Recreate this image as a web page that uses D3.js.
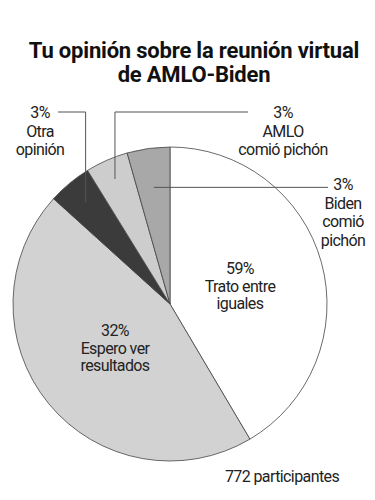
<!DOCTYPE html>
<html>
<head>
<meta charset="utf-8">
<script src="https://cdn.jsdelivr.net/npm/d3@7"></script>
<style>
  body { margin: 0; background: #fff; }
  svg { display: block; font-family: Roboto, "Noto Sans", sans-serif; }
  .title { font-weight: 700; font-size: 22px; fill: #111; letter-spacing: -0.2px; }
  .lbl { font-size: 16px; fill: #222; letter-spacing: -0.6px; }
</style>
</head>
<body>
<svg width="375" height="500"></svg>
<script>
// data
var categories = ["Trato entre iguales", "Espero ver resultados", "Otra opinión", "AMLO comió pichón", "Biden comió pichón"];
var percentLabels = ["59%", "32%", "3%", "3%", "3%"];
// share of the circle each slice covers in the drawing (slices are not to scale with the labels)
var sliceShares = [41.5, 45.2, 4.5, 4.4, 4.4];
var labelLines = [
  ["Trato entre", "iguales"],
  ["Espero ver", "resultados"],
  ["Otra", "opinión"],
  ["AMLO", "comió pichón"],
  ["Biden", "comió", "pichón"]
];
var titleLines = ["Tu opinión sobre la reunión virtual", "de AMLO-Biden"];
var footNote = "772 participantes";

var svg = d3.select("svg");
var cx = 170, cy = 304, radius = 157;
var colors = ["#ffffff", "#d2d2d2", "#3b3b3b", "#cdcdcd", "#a8a8a8"];

// title
svg.selectAll(".title")
  .data(titleLines)
  .enter()
  .append("text")
  .attr("class", "title")
  .attr("x", 194)
  .attr("y", (d, i) => 58 + i * 24)
  .attr("text-anchor", "middle")
  .text(d => d);

var pie = d3.pie().sort(null).value(d => d);
var arcs = pie(sliceShares);
var arc = d3.arc().innerRadius(0).outerRadius(radius);

var group = svg.append("g")
  .attr("transform", "translate(" + cx + "," + cy + ")");

group.selectAll("path")
  .data(arcs)
  .enter()
  .append("path")
  .attr("d", arc)
  .attr("fill", (d, i) => colors[i])
  .attr("stroke", "#444")
  .attr("stroke-width", 0.8);

// leader lines for the small slices: [slice index, anchor radius, path after anchor]
var leaders = [
  { i: 2, r: 0.84, pts: d => [[d[0], 112 - cy], [58 - cx, 112 - cy]] },
  { i: 3, r: 0.87, pts: d => [[d[0], 112 - cy], [248 - cx, 112 - cy]] },
  { i: 4, r: 0.75, pts: d => [[328 - cx, d[1]]] }
];
leaders.forEach(function(l) {
  var a = arcs[l.i];
  var anchor = d3.arc().innerRadius(radius * l.r).outerRadius(radius * l.r).centroid(a);
  var pts = [anchor].concat(l.pts(anchor));
  group.append("path")
    .attr("d", d3.line()(pts))
    .attr("fill", "none")
    .attr("stroke", "#555")
    .attr("stroke-width", 1);
});

// label positions (x center, first baseline)
var labelPos = [[240, 274], [115, 336], [40, 118], [283, 118], [343, 190]];
var lineGap = [17.5, 17.5, 18.5, 18.5, 18.5];

labelPos.forEach(function(p, i) {
  var lines = [percentLabels[i]].concat(labelLines[i]);
  svg.append("g").selectAll("text")
    .data(lines)
    .enter()
    .append("text")
    .attr("class", "lbl")
    .attr("x", p[0])
    .attr("y", (d, j) => p[1] + j * lineGap[i])
    .attr("text-anchor", "middle")
    .text(d => d);
});

svg.append("text")
  .attr("class", "lbl")
  .attr("x", 282)
  .attr("y", 482)
  .attr("text-anchor", "middle")
  .text(footNote);
</script>
</body>
</html>
